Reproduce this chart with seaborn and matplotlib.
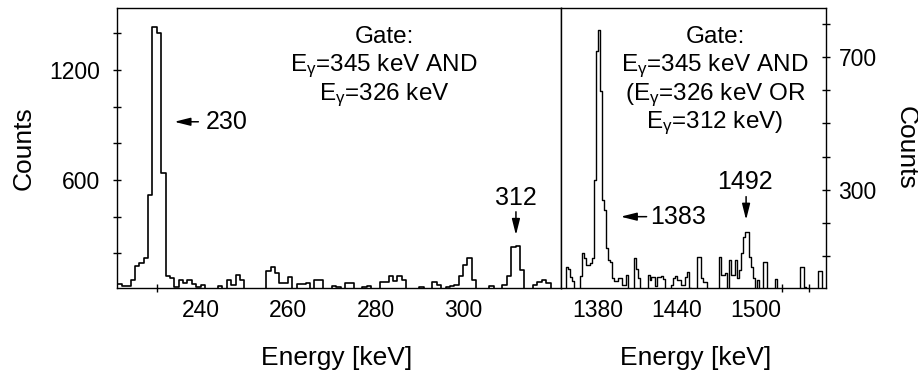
import numpy as np
import pandas as pd
import matplotlib
matplotlib.use("Agg")
import matplotlib.pyplot as plt
import seaborn as sns

# ---------------- data ----------------
# Left spectrum: 1 keV bins starting at 221 keV
left_first_edge = 221.0
left_bin_width = 1.0
left_counts = [
    33, 22, 22, 55, 133, 145, 176, 518, 1436, 1400,      # 221-230
    636, 76, 64, 18, 55, 36, 55, 33, 15, 30,             # 231-240
    0, 0, 0, 20, 0, 55, 30, 82, 55, 0,                   # 241-250
    0, 0, 0, 0, 105, 124, 95, 40, 40, 73,                # 251-260
    0, 33, 33, 36, 0, 55, 55, 0, 0, 22,                  # 261-270
    18, 0, 36, 36, 0, 0, 18, 22, 0, 0,                   # 271-280
    45, 45, 76, 51, 76, 55, 0, 0, 0, 18,                 # 281-290
    0, 0, 45, 27, 0, 18, 22, 27, 76, 136,                # 291-300
    173, 55, 0, 0, 0, 22, 0, 0, 27, 76,                  # 301-310
    236, 240, 109, 0, 0, 27, 45, 55, 40, 0,              # 311-320
    0,                                                   # 321
]

# Right spectrum: 1.5 keV bins starting at 1352 keV
right_first_edge = 1352.0
right_bin_width = 1.5
right_counts = [
    0, 0, 0, 68, 60, 36, 25, 0, 0, 0,
    40, 108, 93, 73, 73, 80, 93, 328, 718, 783,
    598, 268, 240, 123, 88, 83, 33, 26, 26, 33,
    33, 14, 14, 43, 0, 0, 0, 93, 60, 33,
    0, 0, 0, 0, 43, 28, 36, 36, 10, 36,
    36, 40, 30, 0, 0, 0, 14, 33, 40, 28,
    28, 14, 14, 38, 53, 5, 0, 0, 0, 98,
    98, 33, 22, 22, 0, 0, 0, 0, 0, 0,
    98, 43, 43, 48, 0, 88, 43, 43, 88, 33,
    58, 108, 158, 173, 173, 98, 68, 33, 0, 28,
    0, 0, 83, 83, 0, 0, 0, 0, 30, 0,
    0, 0, 0, 0, 0, 0, 0, 0, 0, 0,
    0, 68, 68, 8, 0, 0, 0, 0, 0, 0,
    55, 55, 0, 0,
]

left_xlim = (220.9, 322.4)
left_ylim = (14, 1537)
right_xlim = (1352.6, 1552.9)
right_ylim = (5, 847)

left_tick_labels = [240, 260, 280, 300]
left_tick_marks = [230, 260, 280, 300]
left_yticks = [200, 400, 600, 800, 1000, 1200, 1400]
left_ylabels_shown = [600, 1200]
right_tick_labels = [1380, 1440, 1500]
right_tick_marks = [1380, 1440, 1520, 1540]
right_yticks = [100, 200, 300, 400, 500, 600, 700, 800]
right_ylabels_shown = [300, 700]

left_gate = ["Gate:", r"E$_{\mathregular{γ}}$=345 keV AND", r"E$_{\mathregular{γ}}$=326 keV"]
right_gate = ["Gate:", r"E$_{\mathregular{γ}}$=345 keV AND", r"(E$_{\mathregular{γ}}$=326 keV OR",
              r"E$_{\mathregular{γ}}$=312 keV)"]

# ---------------- style ----------------
sns.set_theme(style="white")
plt.rcParams.update({
    "font.family": ["Liberation Sans", "DejaVu Sans"],
    "mathtext.fontset": "custom",
    "mathtext.rm": "Liberation Sans",
    "mathtext.it": "Liberation Sans:italic",
    "mathtext.bf": "Liberation Sans:bold",
    "axes.edgecolor": "black",
    "axes.labelcolor": "black",
    "text.color": "black",
    "axes.linewidth": 1.0,
    "xtick.color": "black",
    "ytick.color": "black",
    "xtick.labelcolor": "black",
    "ytick.labelcolor": "black",
})

W, H = 918, 373
fig = plt.figure(figsize=(W / 100, H / 100), dpi=100)
bottom = (H - 287.5) / H
height = 279.2 / H
axL = fig.add_axes([117 / W, bottom, 444 / W, height])
axR = fig.add_axes([561 / W, bottom, 265 / W, height])


def make_df(first, width, counts):
    centers = first + width * (np.arange(len(counts)) + 0.5)
    return pd.DataFrame({"energy": centers, "counts": counts})


dfL = make_df(left_first_edge, left_bin_width, left_counts)
dfR = make_df(right_first_edge, right_bin_width, right_counts)

sns.histplot(data=dfL, x="energy", weights="counts", binwidth=left_bin_width,
             binrange=(left_first_edge, left_first_edge + left_bin_width * len(left_counts)),
             element="step", fill=False, color="black", linewidth=1.2, ax=axL)
sns.histplot(data=dfR, x="energy", weights="counts", binwidth=right_bin_width,
             binrange=(right_first_edge, right_first_edge + right_bin_width * len(right_counts)),
             element="step", fill=False, color="black", linewidth=1.0, ax=axR)

TS = 16.5
for ax, xl, yl, lab, marks, yt, shown in [
    (axL, left_xlim, left_ylim, left_tick_labels, left_tick_marks, left_yticks, left_ylabels_shown),
    (axR, right_xlim, right_ylim, right_tick_labels, right_tick_marks, right_yticks, right_ylabels_shown),
]:
    ax.set_xlim(*xl)
    ax.set_ylim(*yl)
    ax.set_xticks(lab)
    ax.set_xticklabels([str(v) for v in lab], fontsize=TS, color="black")
    ax.set_xticks(marks, minor=True)
    ax.tick_params(axis="x", which="major", length=0, pad=8)
    ax.tick_params(axis="x", which="minor", length=6, width=1.0, direction="inout", bottom=True)
    ax.set_yticks(yt)
    ax.set_yticklabels([str(v) if v in shown else "" for v in yt], fontsize=TS, color="black")
    ax.set_xlabel("Energy [keV]", fontsize=19, color="black")
    for s in ax.spines.values():
        s.set_color("black")
        s.set_linewidth(1.0)

axL.tick_params(axis="y", which="major", length=6, width=1.0, direction="inout", pad=9,
                left=True, right=False)
axL.set_ylabel("Counts", fontsize=19, rotation=90, va="center", color="black")
axR.yaxis.tick_right()
axR.tick_params(axis="y", which="major", length=6, width=1.0, direction="inout", pad=6,
                left=False, right=True)
axR.yaxis.set_label_position("right")
axR.set_ylabel("Counts", fontsize=19, rotation=-90, va="center", color="black")

axL.yaxis.set_label_coords(-0.21, 0.5)
axR.yaxis.set_label_coords(1.302, 0.5)
axL.xaxis.set_label_coords(0.495, -0.21)
axR.xaxis.set_label_coords(0.509, -0.21)

# ---------------- annotations ----------------
AS = 18
arrow = dict(arrowstyle="-|>,head_length=0.8,head_width=0.2", color="black", lw=1.1,
             shrinkA=0, shrinkB=0, mutation_scale=12)

axL.annotate("", xy=(234.0, 918), xytext=(239.5, 918), arrowprops=arrow)
axL.text(241.1, 918, "230", fontsize=AS, ha="left", va="center")
axL.annotate("", xy=(312.1, 300), xytext=(312.1, 427), arrowprops=arrow)
axL.text(312.0, 504, "312", fontsize=AS, ha="center", va="center")

axR.annotate("", xy=(1397.7, 218.6), xytext=(1417.3, 218.6), arrowprops=arrow)
axR.text(1419.8, 218.6, "1383", fontsize=AS, ha="left", va="center")
axR.annotate("", xy=(1492.5, 209), xytext=(1492.5, 279), arrowprops=arrow)
axR.text(1491.9, 324, "1492", fontsize=AS, ha="center", va="center")

GS = 17.5
for i, line in enumerate(left_gate):
    fig.text(384 / W, 1 - (43.3 + 28.3 * i) / H, line, fontsize=GS, ha="center", va="baseline")
for i, line in enumerate(right_gate):
    fig.text(715 / W, 1 - (43.3 + 28.3 * i) / H, line, fontsize=GS, ha="center", va="baseline")

fig.savefig("out.png", dpi=100)
